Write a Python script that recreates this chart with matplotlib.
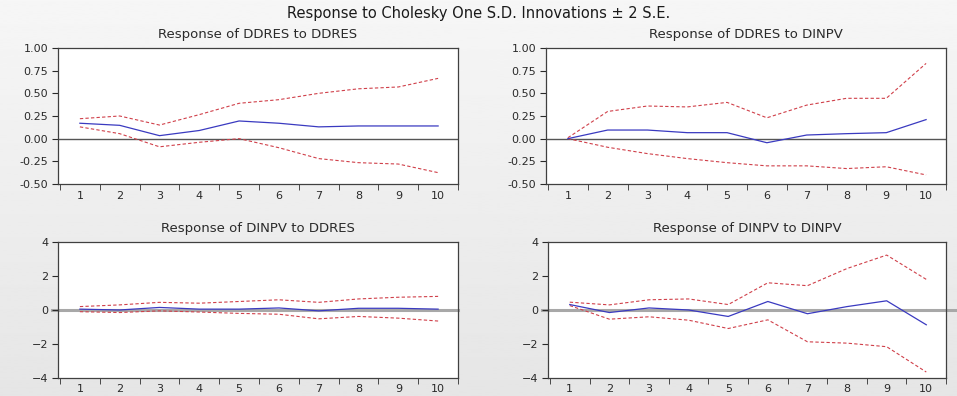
import numpy as np
import matplotlib
matplotlib.use("Agg")
import matplotlib.pyplot as plt

plt.rcParams['font.family'] = ['DejaVu Sans']

# Impulse response periods
periods = [1, 2, 3, 4, 5, 6, 7, 8, 9, 10]

# Response of DDRES to DDRES
ddres_ddres = [0.17, 0.147, 0.033, 0.09, 0.195, 0.17, 0.13, 0.14, 0.14, 0.14]
ddres_ddres_hi = [0.22, 0.25, 0.15, 0.265, 0.39, 0.43, 0.50, 0.55, 0.57, 0.665]
ddres_ddres_lo = [0.13, 0.055, -0.09, -0.04, 0.0, -0.10, -0.22, -0.265, -0.28, -0.375]

# Response of DDRES to DINPV
ddres_dinpv = [0.0, 0.095, 0.095, 0.066, 0.066, -0.045, 0.04, 0.055, 0.066, 0.21]
ddres_dinpv_hi = [0.01, 0.30, 0.36, 0.35, 0.40, 0.23, 0.37, 0.445, 0.445, 0.83]
ddres_dinpv_lo = [0.0, -0.095, -0.165, -0.22, -0.265, -0.30, -0.30, -0.33, -0.31, -0.40]

# Response of DINPV to DDRES
dinpv_ddres = [0.05, 0.0, 0.15, 0.05, 0.05, 0.12, -0.05, 0.1, 0.1, 0.05]
dinpv_ddres_hi = [0.2, 0.3, 0.45, 0.4, 0.5, 0.6, 0.45, 0.65, 0.75, 0.8]
dinpv_ddres_lo = [-0.1, -0.15, -0.05, -0.12, -0.2, -0.25, -0.52, -0.38, -0.48, -0.65]

# Response of DINPV to DINPV
dinpv_dinpv = [0.32, -0.15, 0.12, 0.0, -0.38, 0.5, -0.22, 0.2, 0.54, -0.87]
dinpv_dinpv_hi = [0.46, 0.3, 0.6, 0.65, 0.32, 1.6, 1.43, 2.44, 3.23, 1.8]
dinpv_dinpv_lo = [0.26, -0.54, -0.4, -0.6, -1.09, -0.58, -1.87, -1.95, -2.16, -3.65]

titles = ["Response of DDRES to DDRES", "Response of DDRES to DINPV",
          "Response of DINPV to DDRES", "Response of DINPV to DINPV"]

fig = plt.figure(figsize=(9.57, 3.96), dpi=100)

# soft grey background that darkens a little toward the bottom
bg = fig.add_axes([0, 0, 1, 1], zorder=-10)
grad = np.linspace(0.965, 0.9, 256).reshape(-1, 1)
bg.imshow(grad, aspect='auto', cmap='gray', vmin=0, vmax=1, extent=[0, 1, 0, 1])
bg.set_axis_off()

fig.text(0.5, 0.966, "Response to Cholesky One S.D. Innovations \u00b1 2 S.E.",
         ha='center', va='center', fontsize=10.5, color='#1a1a1a')

positions = [
    [0.0606, 0.5354, 0.418, 0.3434],
    [0.5705, 0.5354, 0.418, 0.3434],
    [0.0606, 0.0455, 0.418, 0.3434],
    [0.5726, 0.0455, 0.416, 0.3434],
]
panels = [
    (ddres_ddres, ddres_ddres_hi, ddres_ddres_lo),
    (ddres_dinpv, ddres_dinpv_hi, ddres_dinpv_lo),
    (dinpv_ddres, dinpv_ddres_hi, dinpv_ddres_lo),
    (dinpv_dinpv, dinpv_dinpv_hi, dinpv_dinpv_lo),
]
# how far the bottom-row zero line runs past the right spine
zero_right = [None, None, 10.5, 10.8]

for k, (pos, (resp, hi, lo), title) in enumerate(zip(positions, panels, titles)):
    ax = fig.add_axes(pos)
    ax.set_facecolor('white')
    top_row = k < 2
    if top_row:
        ax.axhline(0, color='#555555', lw=1.0, zorder=1)
    else:
        # thick grey zero line poking out over the tick on the left
        ax.plot([0.3, zero_right[k]], [0, 0], color='#a8a8a8', lw=2.2, zorder=1, clip_on=False)
    ax.plot(periods, hi, color='#d0404a', lw=0.8, ls=(0, (3, 2)), zorder=2)
    ax.plot(periods, lo, color='#d0404a', lw=0.8, ls=(0, (3, 2)), zorder=2)
    ax.plot(periods, resp, color='#3a3ac0', lw=0.9, zorder=3)

    ax.set_xlim(0.45, 10.5)
    ax.set_xticks(periods)
    ax.set_xticks(np.arange(0.5, 11, 1), minor=True)
    ax.tick_params(axis='x', which='major', length=0, pad=5 if top_row else 4,
                   labelsize=8, colors='#2a2a2a')
    ax.tick_params(axis='x', which='minor', length=4, direction='out', color='#303030')
    ax.tick_params(axis='y', length=4, direction='out', labelsize=8, colors='#2a2a2a', pad=3)

    if top_row:
        ax.set_ylim(-0.5, 1.0)
        yt = [-0.5, -0.25, 0.0, 0.25, 0.5, 0.75, 1.0]
        ax.set_yticks(yt)
        ax.set_yticklabels(["%.2f" % v for v in yt])
    else:
        ax.set_ylim(-4, 4)
        ax.set_yticks([-4, -2, 0, 2, 4])

    for sp in ax.spines.values():
        sp.set_color('#404040')
        sp.set_linewidth(0.9)

    ax.set_title(title, fontsize=9.5, color='#2a2a2a', pad=7)

fig.savefig("out.png", dpi=100)
